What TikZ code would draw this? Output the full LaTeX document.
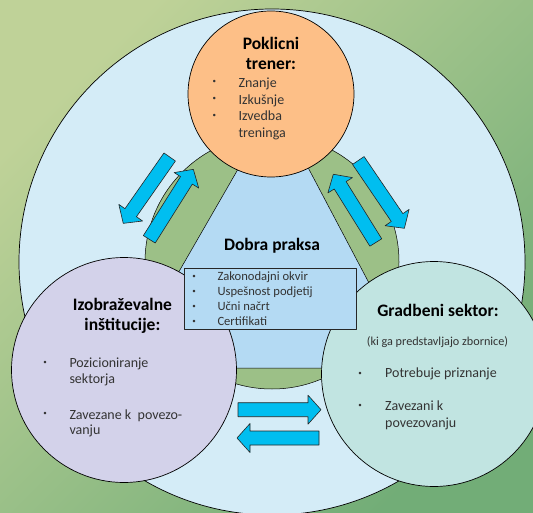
\documentclass[tikz,border=0pt]{standalone}
\usepackage{fontspec}
\setmainfont{Carlito}
\usetikzlibrary{calc}
\definecolor{bgA}{HTML}{BFD298}
\definecolor{bgD}{HTML}{72AD77}
\definecolor{outer}{HTML}{D4ECF7}
\definecolor{ring}{HTML}{9CC087}
\definecolor{praksa}{HTML}{B4DAF3}
\definecolor{trener}{HTML}{FDBF87}
\definecolor{sola}{HTML}{D3D2EA}
\definecolor{sektor}{HTML}{C1E4E1}
\definecolor{puscica}{HTML}{00BEF0}
\definecolor{besedilo}{HTML}{333333}
\begin{document}
\begin{tikzpicture}[x=1pt, y=-1pt, line join=round, line cap=round,
	title/.style={anchor=base, inner sep=0pt, font=\fontsize{17.5}{20}\selectfont\bfseries},
	item/.style={anchor=base west, inner sep=0pt, text=besedilo, font=\fontsize{14}{16}\selectfont},
	small/.style={anchor=base west, inner sep=0pt, text=besedilo, font=\fontsize{12.6}{15}\selectfont},
	dot/.style={inner sep=0pt, text=besedilo, font=\fontsize{7}{7}\selectfont},
	rim/.style={draw=black, line width=.7pt},
	blockarrow/.style={draw=black!85, line width=.6pt, fill=puscica}]
	\shade[top color=bgA, bottom color=bgD, shading angle=45] (0,0) rectangle (533,513);
	\useasboundingbox (0,0) rectangle (533,513);
	\clip (0,0) rectangle (533,513);
	\path
	(272,262) coordinate (O)
	(271,94) coordinate (T)
	(124,370) coordinate (L)
	(434,374) coordinate (R)
	(275,105) coordinate (A)
	(123.4,368) coordinate (B)
	(413.9,368) coordinate (C)
	;
	% ozadje in obroc
	\draw[rim, fill=outer] (O) circle (253);
	\fill[ring] (O) circle (127);
	\begin{scope}
		\clip (O) circle (127);
		\draw[rim, line width=.5pt, fill=praksa] (A)--(B)--(C)--cycle;
	\end{scope}
	\draw[rim, line width=.5pt] (O) circle (127);
	\draw[rim, fill=trener] (T) circle (83);
	% puscice
	\foreach \x/\y/\a/\l in {169.7/157/235/81, 149.3/239.3/57.8/82.7, 358.3/160.5/304.2/82, 375.8/242.5/121.9/80.4, 238/409.7/0/83, 319/438/180/82}
	\draw[blockarrow, shift={(\x,\y)}, rotate=\a]
	(0,-7)--(\l-13,-7)--(\l-13,-14.5)--(\l,0)--(\l-13,14.5)--(\l-13,7)--(0,7)--cycle;
	\draw[rim, fill=sola] (L) circle (112.5);
	\draw[rim, fill=sektor] (R) circle (112.5);
	\node[draw=black!85, line width=.7pt, fill=praksa, minimum width=171.7pt, minimum height=60.7pt, inner sep=0pt, anchor=north west] (box) at (184.3,268.3) {};
	% poklicni trener
	\node[title] (t1) at (271,50) {Poklicni};
	\node[title] (t2) at (271,69.5) {trener:};
	\foreach \y in {81.7,99,116} \node[dot] at (214.3,\y) {•};
	\node[item] (z1) at (238.3,87.3) {Znanje};
	\node[item] (z2) at (238.3,104.3) {Izkušnje};
	\node[item] (z3) at (238.3,121) {Izvedba};
	\node[item] (z4) at (238.3,137.5) {treninga};
	% dobra praksa
	\node[title] (p0) at (272,250.7) {Dobra praksa};
	\foreach \y in {276.7,291.7,306.7,321.7} \node[dot] at (194,\y) {•};
	\node[small] (p1) at (217.3,280.7) {Zakonodajni okvir};
	\node[small] (p2) at (217.3,295.7) {Uspešnost podjetij};
	\node[small] (p3) at (217.3,310.7) {Učni načrt};
	\node[small] (p4) at (217.3,325.7) {Certifikati};
	% izobrazevalne institucije
	\node[title] (s1) at (122.4,310.7) {Izobraževalne};
	\node[title] (s2) at (122.4,330) {inštitucije:};
	\foreach \y in {362.7,414} \node[dot] at (45,\y) {•};
	\node[item] (s3) at (69.3,367.3) {Pozicioniranje};
	\node[item] (s4) at (69.3,383.3) {sektorja};
	\node[item] (s5) at (69.3,419) {Zavezane k~ povezo-};
	\node[item] (s6) at (69.3,434) {vanju};
	% gradbeni sektor
	\node[title] (g1) at (438,316.7) {Gradbeni sektor:};
	\node[small, anchor=base, font=\fontsize{12.2}{15}\selectfont] (g2) at (437.5,345) {(ki ga predstavljajo zbornice)};
	\foreach \y in {374,406} \node[dot] at (360,\y) {•};
	\node[item] (g3) at (385,377.3) {Potrebuje priznanje};
	\node[item] (g4) at (385,410.7) {Zavezani k};
	\node[item] (g5) at (385,427.3) {povezovanju};
\end{tikzpicture}
\end{document}
